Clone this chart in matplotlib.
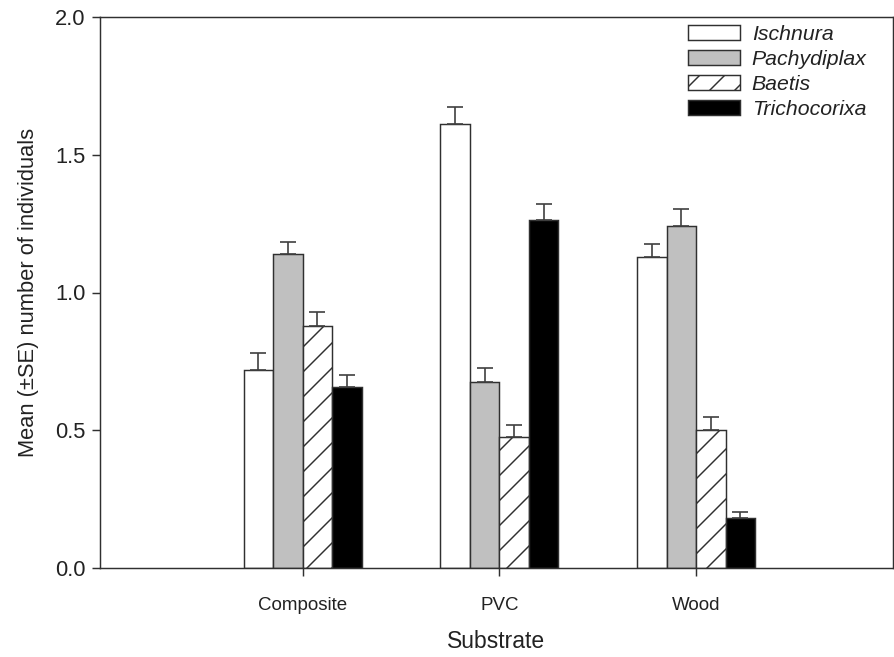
import matplotlib
matplotlib.use("Agg")
import matplotlib.pyplot as plt
import numpy as np

plt.rcParams['font.family'] = ['Liberation Sans', 'DejaVu Sans']
plt.rcParams['hatch.linewidth'] = 0.7

categories = ["Composite", "PVC", "Wood"]
species = ["Ischnura", "Pachydiplax", "Baetis", "Trichocorixa"]
ischnura = [0.72, 1.61, 1.13]
ischnura_se = [0.06, 0.065, 0.045]
pachydiplax = [1.14, 0.675, 1.24]
pachydiplax_se = [0.042, 0.05, 0.064]
baetis = [0.88, 0.476, 0.50]
baetis_se = [0.048, 0.043, 0.047]
trichocorixa = [0.657, 1.263, 0.181]
trichocorixa_se = [0.045, 0.058, 0.022]

values = [ischnura, pachydiplax, baetis, trichocorixa]
errors = [ischnura_se, pachydiplax_se, baetis_se, trichocorixa_se]
faces = ["white", "#c0c0c0", "white", "black"]
hatches = [None, None, "//", None]

fig = plt.figure(figsize=(894/150, 657/150), dpi=150)
ax = fig.add_axes([100/894, 1-568/657, 793/894, 551/657])

edge = "#303030"
x = np.arange(1, len(categories)+1)
w = 0.15
offsets = [-1.5*w, -0.5*w, 0.5*w, 1.5*w]
for vals, errs, fc, h, off, name in zip(values, errors, faces, hatches, offsets, species):
    ax.bar(x+off, vals, width=w, color=fc, edgecolor=edge, linewidth=0.7,
           hatch=h, label=name, zorder=2)
    ax.errorbar(x+off, vals, yerr=[np.zeros(len(errs)), errs], fmt='none',
                ecolor="#404040", elinewidth=0.8, capsize=3.8, capthick=0.8, zorder=3)

ax.set_xlim(-0.03, 4.0)
ax.set_ylim(0, 2.0)
ax.set_xticks(x)
ax.set_xticklabels(categories, fontsize=9, color="#222222")
ax.set_yticks([0.0, 0.5, 1.0, 1.5, 2.0])
ax.set_yticklabels(["0.0", "0.5", "1.0", "1.5", "2.0"], fontsize=10.5, color="#222222")
ax.tick_params(direction='out', length=3.8, width=0.7, color=edge)
ax.tick_params(axis='x', pad=10)
ax.tick_params(axis='y', pad=3)
for s in ax.spines.values():
    s.set_color(edge)
    s.set_linewidth(0.7)

ax.set_xlabel("Substrate", fontsize=11, color="#222222", labelpad=8)
ax.set_ylabel("Mean (\u00b1SE) number of individuals", fontsize=10.5, color="#222222", labelpad=8)

leg = ax.legend(loc='upper left', bbox_to_anchor=(0.7415, 0.985), frameon=False,
                borderpad=0, borderaxespad=0, handlelength=2.45, handleheight=0.7,
                handletextpad=0.55, labelspacing=0.28, prop={'size': 10.2, 'style': 'italic'})
for t in leg.get_texts():
    t.set_color("#222222")

fig.savefig("out.png", dpi=150)
